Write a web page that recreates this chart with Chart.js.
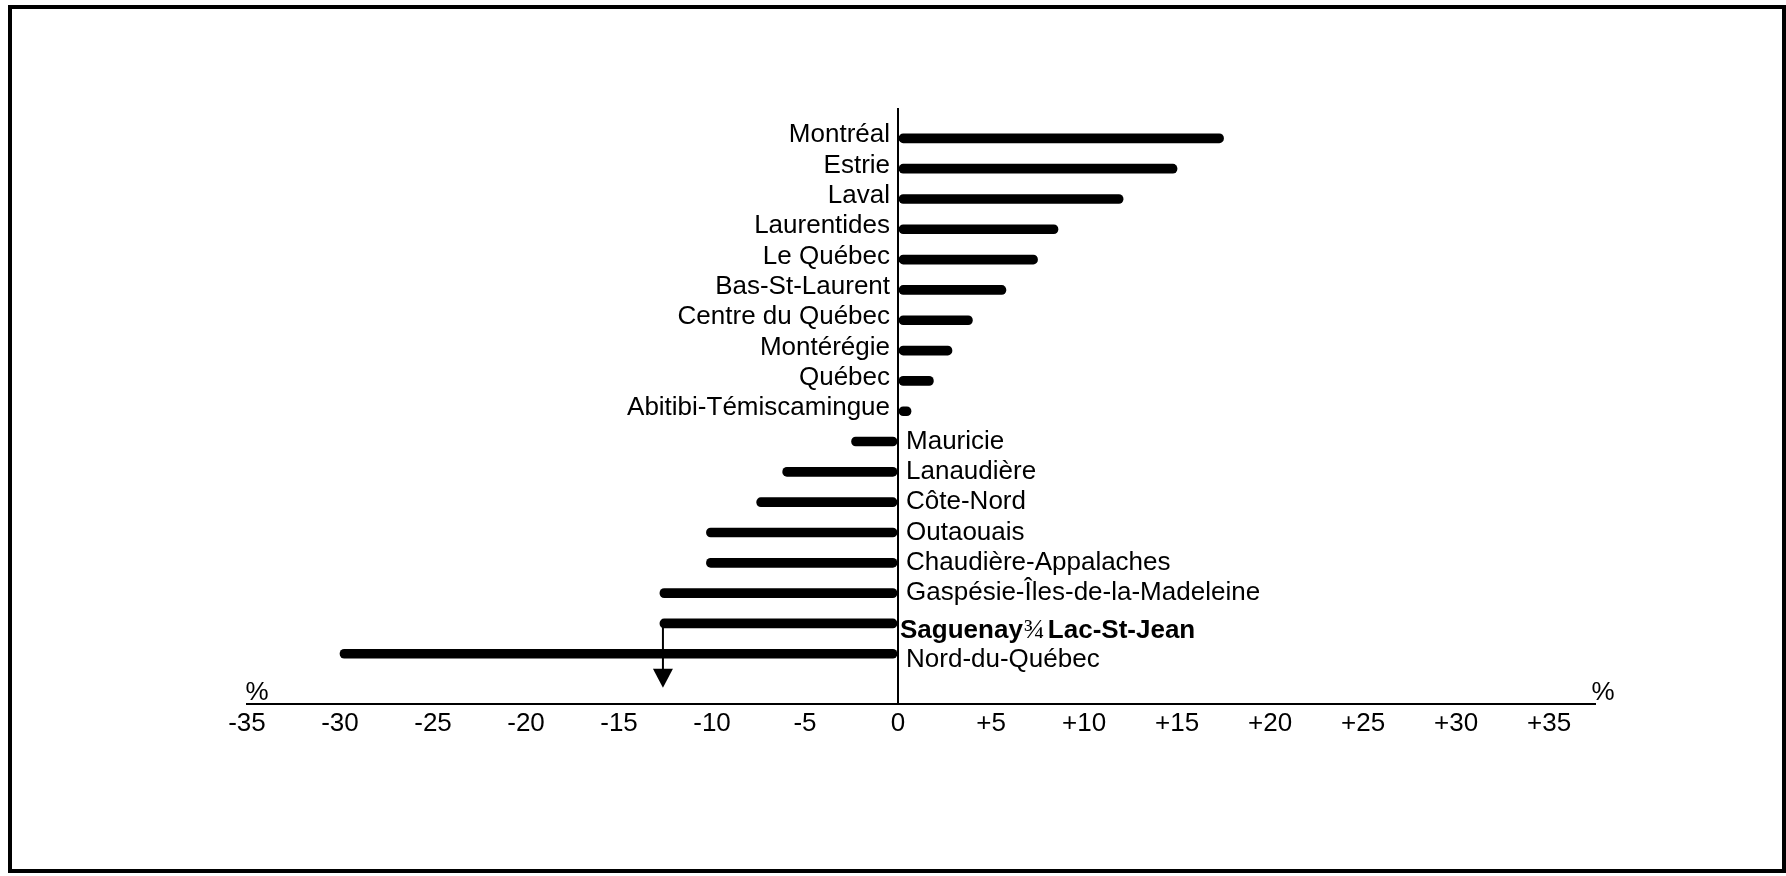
<!DOCTYPE html>
<html>
<head>
<meta charset="utf-8">
<script src="https://cdn.jsdelivr.net/npm/chart.js@4/dist/chart.umd.min.js"></script>
<style>
  body { margin: 0; background: #fff; }
  #frame {
    position: absolute; left: 8px; top: 5px; width: 1778px; height: 868px;
    box-sizing: border-box; border: 4px solid #000;
  }
  #c { position: absolute; left: 0; top: 0; }
</style>
</head>
<body>
<div id="frame"></div>
<canvas id="c" width="1786" height="876"></canvas>
<script>
const regions = [
  "Montréal", "Estrie", "Laval", "Laurentides", "Le Québec", "Bas-St-Laurent",
  "Centre du Québec", "Montérégie", "Québec", "Abitibi-Témiscamingue",
  "Mauricie", "Lanaudière", "Côte-Nord", "Outaouais", "Chaudière-Appalaches",
  "Gaspésie-Îles-de-la-Madeleine", "Saguenay¾Lac-St-Jean", "Nord-du-Québec"
];
const change = [17.5, 15, 12.1, 8.6, 7.5, 5.8, 4, 2.9, 1.9, 0.7,
  -2.5, -6.2, -7.6, -10.3, -10.3, -12.8, -12.8, -30];
const xTicks = [-35, -30, -25, -20, -15, -10, -5, 0, 5, 10, 15, 20, 25, 30, 35];
const highlight = "Saguenay¾Lac-St-Jean";

const FONT = "Liberation Sans, Arial, sans-serif";
const SIZE = 26;

const labelsPlugin = {
  id: "labels",
  afterDatasetsDraw(chart) {
    const ctx = chart.ctx;
    const xs = chart.scales.x, ys = chart.scales.y;
    const x0 = xs.getPixelForValue(0);
    ctx.save();
    ctx.fillStyle = "#000";
    ctx.textBaseline = "middle";
    regions.forEach((name, i) => {
      const y = ys.getPixelForValue(i);
      ctx.font = SIZE + "px " + FONT;
      if (change[i] > 0) {
        ctx.textAlign = "right";
        ctx.fillText(name, x0 - 8, y - 3);
      } else if (name === highlight) {
        // bold name, the ¾ separator left in a plain serif face
        const parts = name.split("¾");
        let x = x0 + 2;
        ctx.textAlign = "left";
        ctx.font = "bold " + SIZE + "px " + FONT;
        ctx.fillText(parts[0], x, y + 7);
        x += ctx.measureText(parts[0]).width + 1;
        ctx.font = "28px Liberation Serif, serif";
        ctx.fillText("¾", x, y + 7);
        x += ctx.measureText("¾").width + 3;
        ctx.font = "bold " + SIZE + "px " + FONT;
        ctx.fillText(parts[1], x, y + 7);
      } else {
        ctx.textAlign = "left";
        ctx.fillText(name, x0 + 8, i === regions.length - 1 ? y + 6 : y);
      }
    });

    // arrow under the Saguenay bar
    const k = regions.indexOf(highlight);
    const ax = xs.getPixelForValue(change[k]) + 3;
    const ay = ys.getPixelForValue(k);
    const bottom = chart.chartArea.bottom;
    ctx.strokeStyle = "#000";
    ctx.lineWidth = 2;
    ctx.beginPath();
    ctx.moveTo(ax, ay);
    ctx.lineTo(ax, bottom - 34);
    ctx.stroke();
    ctx.beginPath();
    ctx.moveTo(ax - 10, bottom - 35);
    ctx.lineTo(ax + 10, bottom - 35);
    ctx.lineTo(ax, bottom - 16);
    ctx.closePath();
    ctx.fill();

    // % marks at both ends of the axis
    ctx.font = SIZE + "px " + FONT;
    ctx.textAlign = "center";
    ctx.fillText("%", chart.chartArea.left + 10, bottom - 11);
    ctx.fillText("%", chart.chartArea.right + 8, bottom - 11);
    ctx.restore();
  }
};

new Chart(document.getElementById("c"), {
  type: "bar",
  data: {
    datasets: [{
      data: change.map((v, i) => ({ x: v, y: i })),
      backgroundColor: "#000",
      barThickness: 9,
      borderRadius: 4.5,
      borderSkipped: false,
    }],
  },
  options: {
    indexAxis: "y",
    responsive: false,
    animation: false,
    devicePixelRatio: 1,
    layout: { padding: { left: 247, right: 191, top: 108, bottom: 133 } },
    plugins: { legend: { display: false }, tooltip: { enabled: false } },
    scales: {
      x: {
        type: "linear",
        min: -35,
        max: 37.47,
        afterBuildTicks: (scale) => {
          scale.ticks = xTicks.map((v) => ({ value: v }));
        },
        grid: {
          drawTicks: false,
          color: (c) => (c.tick && c.tick.value === 0 ? "#000" : "rgba(0,0,0,0)"),
          lineWidth: 2,
        },
        border: { display: true, color: "#000", width: 2 },
        ticks: {
          color: "#000",
          padding: 4,
          font: { family: FONT, size: SIZE },
          callback: (v) => (v > 0 ? "+" + v : String(v)),
          autoSkip: false,
          maxRotation: 0,
        },
      },
      y: {
        type: "linear",
        reverse: true,
        offset: false,
        min: -1.0,
        max: 18.65,
        display: false,
      },
    },
  },
  plugins: [labelsPlugin],
});
</script>
</body>
</html>
